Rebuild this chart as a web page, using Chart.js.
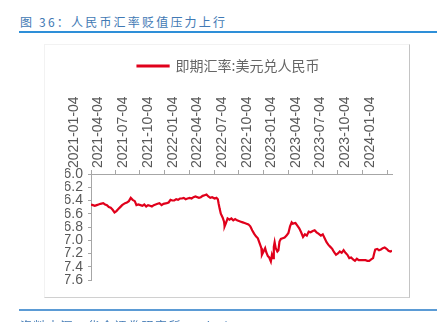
<!DOCTYPE html>
<html>
<head>
<meta charset="utf-8">
<script src="https://cdn.jsdelivr.net/npm/chart.js@4.4.1/dist/chart.umd.min.js"></script>
<style>
  body { margin: 0; width: 437px; height: 322px; overflow: hidden; background: #fff; position: relative; font-family: "Noto Sans CJK SC", sans-serif; }
  .title { position: absolute; left: 20px; top: 13px; font-size: 12px; color: #4179b4; letter-spacing: 2.2px; white-space: nowrap; }
  .rule-top { position: absolute; left: 19px; top: 31px; width: 418px; height: 2px; background: #2e8fd8; }
  .frame { position: absolute; left: 44px; top: 44px; width: 364px; height: 252px; border: 1px solid #f2f2f2; border-right-color: #c4c4c4; border-bottom-color: #d0d0d0; }
  .rule-bot { position: absolute; left: 19px; top: 309px; width: 418px; height: 2px; background: #5b9bd5; }
  .source { position: absolute; left: 20px; top: 317px; font-size: 12px; color: #4179b4; letter-spacing: 1.5px; white-space: nowrap; }
  #wrap { position: absolute; left: 0; top: 0; width: 437px; height: 322px; }
</style>
</head>
<body>
<div class="title">图 36：人民币汇率贬值压力上行</div>
<div class="rule-top"></div>
<div class="frame"></div>
<div id="wrap"><canvas id="fxChart"></canvas></div>
<div class="rule-bot"></div>
<div class="source">资料来源：华金证券研究所，wind</div>

<script>
// --- DATA ---
const seriesName = '即期汇率:美元兑人民币';

const dates = [
  '2021-01-04','2021-01-11','2021-01-18','2021-01-25','2021-02-01','2021-02-08','2021-02-18','2021-02-25',
  '2021-03-04','2021-03-11','2021-03-18','2021-03-25','2021-04-01','2021-04-08','2021-04-15','2021-04-22',
  '2021-04-29','2021-05-10','2021-05-17','2021-05-24','2021-05-31','2021-06-07','2021-06-15','2021-06-21',
  '2021-06-28','2021-07-06','2021-07-13','2021-07-20','2021-07-27','2021-08-03','2021-08-10','2021-08-17',
  '2021-08-24','2021-08-31','2021-09-07','2021-09-14','2021-09-22','2021-09-29','2021-10-11','2021-10-18',
  '2021-10-25','2021-11-01','2021-11-08','2021-11-15','2021-11-22','2021-11-29','2021-12-06','2021-12-13',
  '2021-12-20','2021-12-27','2022-01-04','2022-01-11','2022-01-18','2022-01-25','2022-02-07','2022-02-14',
  '2022-02-21','2022-02-28','2022-03-07','2022-03-14','2022-03-21','2022-03-28','2022-04-06','2022-04-13',
  '2022-04-18','2022-04-21','2022-04-25','2022-04-29','2022-05-06','2022-05-11','2022-05-13','2022-05-18',
  '2022-05-24','2022-05-31','2022-06-07','2022-06-14','2022-06-21','2022-06-28','2022-07-05','2022-07-12',
  '2022-07-19','2022-07-26','2022-08-02','2022-08-09','2022-08-16','2022-08-23','2022-08-30','2022-09-06',
  '2022-09-13','2022-09-20','2022-09-26','2022-09-28','2022-10-10','2022-10-14','2022-10-20','2022-10-25',
  '2022-10-31','2022-11-04','2022-11-08','2022-11-11','2022-11-14','2022-11-18','2022-11-24','2022-11-28',
  '2022-12-02','2022-12-07','2022-12-14','2022-12-21','2022-12-28','2023-01-04','2023-01-10','2023-01-16',
  '2023-01-20','2023-01-30','2023-02-06','2023-02-13','2023-02-20','2023-02-27','2023-03-06','2023-03-13',
  '2023-03-20','2023-03-27','2023-04-04','2023-04-11','2023-04-18','2023-04-25','2023-05-04','2023-05-11',
  '2023-05-18','2023-05-25','2023-06-01','2023-06-08','2023-06-15','2023-06-22','2023-06-29','2023-07-06',
  '2023-07-13','2023-07-20','2023-07-27','2023-08-03','2023-08-10','2023-08-17','2023-08-24','2023-08-31',
  '2023-09-07','2023-09-14','2023-09-21','2023-09-28','2023-10-09','2023-10-16','2023-10-23','2023-10-30',
  '2023-11-06','2023-11-13','2023-11-17','2023-11-21','2023-11-28','2023-12-05','2023-12-12','2023-12-19',
  '2023-12-26','2024-01-02','2024-01-09','2024-01-16','2024-01-22'
];

const usdCny = [
  6.46, 6.47, 6.48, 6.47, 6.46, 6.45, 6.44, 6.46,
  6.47, 6.50, 6.51, 6.54, 6.58, 6.56, 6.53, 6.50,
  6.47, 6.44, 6.43, 6.41, 6.36, 6.39, 6.41, 6.47,
  6.46, 6.47, 6.48, 6.46, 6.49, 6.47, 6.48, 6.49,
  6.47, 6.46, 6.45, 6.44, 6.47, 6.45, 6.44, 6.43,
  6.39, 6.40, 6.40, 6.38, 6.39, 6.37, 6.37, 6.36,
  6.38, 6.37, 6.36, 6.37, 6.35, 6.34, 6.36, 6.35,
  6.33, 6.32, 6.31, 6.34, 6.36, 6.35, 6.37, 6.36,
  6.38, 6.45, 6.53, 6.60, 6.66, 6.72, 6.79, 6.74,
  6.67, 6.69, 6.67, 6.70, 6.68, 6.70, 6.71, 6.72,
  6.73, 6.74, 6.75, 6.76, 6.79, 6.85, 6.90, 6.94,
  6.97, 7.05, 7.12, 7.22, 7.12, 7.18, 7.24, 7.26,
  7.32, 7.22, 7.27, 7.10, 7.03, 7.12, 7.17, 7.15,
  7.02, 6.98, 6.97, 6.96, 6.93, 6.89, 6.79, 6.73,
  6.75, 6.74, 6.78, 6.82, 6.88, 6.95, 6.91, 6.93,
  6.87, 6.88, 6.86, 6.85, 6.88, 6.90, 6.93, 6.91,
  6.97, 7.03, 7.07, 7.10, 7.13, 7.18, 7.22, 7.20,
  7.17, 7.19, 7.15, 7.19, 7.22, 7.27, 7.26, 7.29,
  7.31, 7.28, 7.30, 7.30, 7.30, 7.30, 7.31, 7.31,
  7.29, 7.27, 7.20, 7.14, 7.13, 7.15, 7.14, 7.12,
  7.11, 7.13, 7.16, 7.17, 7.16
];

const xTickLabels = [
  '2021-01-04','2021-04-04','2021-07-04','2021-10-04','2022-01-04','2022-04-04','2022-07-04',
  '2022-10-04','2023-01-04','2023-04-04','2023-07-04','2023-10-04','2024-01-04'
];

const yMin = 6.0, yMax = 7.6, yStep = 0.2;

// --- HELPERS ---
function dayNum(s) {
  const p = s.split('-');
  return Date.UTC(+p[0], +p[1] - 1, +p[2]) / 86400000;
}

const points = dates.map((d, i) => ({ x: dayNum(d), y: usdCny[i] }));
const tickDays = xTickLabels.map(dayNum);

// --- CHART ---
document.addEventListener('DOMContentLoaded', function() {
  const ctx = document.getElementById('fxChart').getContext('2d');
  const axisGray = '#a6a6a6';
  const textGray = '#595959';

  new Chart(ctx, {
    type: 'line',
    data: {
      datasets: [{
        label: seriesName,
        data: points,
        borderColor: '#e0001b',
        backgroundColor: '#e0001b',
        borderWidth: 2.2,
        pointRadius: 0,
        tension: 0
      }]
    },
    options: {
      responsive: true,
      maintainAspectRatio: false,
      animation: false,
      layout: { padding: { left: 65, right: 45, top: 49, bottom: 42 } },
      plugins: {
        legend: {
          display: true,
          position: 'top',
          labels: {
            boxWidth: 31, boxHeight: 1,
            color: '#666666',
            font: { family: '"Noto Sans CJK SC", sans-serif', size: 14 }
          }
        },
        tooltip: { enabled: false }
      },
      scales: {
        x: {
          type: 'linear',
          position: 'top',
          min: dayNum(dates[0]),
          max: dayNum(dates[dates.length - 1]),
          afterBuildTicks: function(scale) {
            scale.ticks = tickDays.map(v => ({ value: v }));
          },
          afterFit: function(scale) { scale.height = 91; },
          grid: { drawOnChartArea: false, drawTicks: true, tickLength: 4, color: axisGray },
          border: { color: axisGray, width: 1 },
          ticks: {
            autoSkip: false,
            minRotation: 90, maxRotation: 90,
            padding: 2,
            color: textGray,
            font: { family: '"Liberation Sans", Arial, sans-serif', size: 14 },
            callback: function(v) { return xTickLabels[tickDays.indexOf(v)]; }
          }
        },
        y: {
          reverse: true,
          min: yMin, max: yMax,
          afterFit: function(scale) { scale.width = 26; },
          grid: { drawOnChartArea: false, drawTicks: true, tickLength: 3, color: axisGray },
          border: { color: axisGray, width: 1 },
          ticks: {
            stepSize: yStep,
            autoSkip: false,
            padding: 5,
            color: textGray,
            font: { family: '"Liberation Sans", Arial, sans-serif', size: 14 },
            callback: function(v) { return v.toFixed(1); }
          }
        }
      }
    }
  });
});
</script>
</body>
</html>
